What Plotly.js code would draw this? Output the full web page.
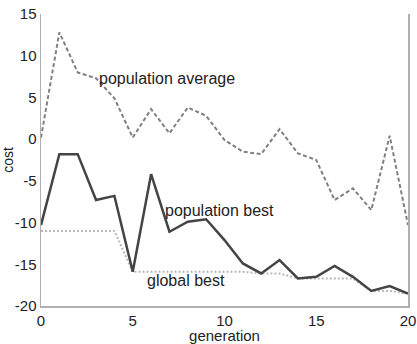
<!DOCTYPE html>
<html>
<head>
<meta charset="utf-8">
<script src="https://cdn.plot.ly/plotly-3.0.1.min.js"></script>
<style>html,body{margin:0;padding:0;background:#fff;}#chart{width:417px;height:344px;}</style>
</head>
<body>
<div id="chart"></div>
<script>
const generation = [0,1,2,3,4,5,6,7,8,9,10,11,12,13,14,15,16,17,18,19,20];
const populationAverage = [0.2,12.8,8.0,7.3,4.9,0.2,3.6,0.7,3.8,2.8,-0.1,-1.5,-1.8,1.2,-1.7,-2.5,-7.3,-5.9,-8.5,0.4,-10.3];
const populationBest = [-10.3,-1.8,-1.8,-7.3,-6.8,-15.9,-4.2,-11.1,-9.9,-9.6,-12.1,-14.9,-16.1,-14.5,-16.7,-16.5,-15.2,-16.5,-18.2,-17.6,-18.5];
const globalBest = [-11,-11,-11,-11,-11,-15.9,-15.9,-15.9,-15.9,-15.9,-15.9,-15.9,-16.1,-16.1,-16.7,-16.7,-16.7,-16.7,-18.2,-18.2,-18.5];
const xTicks = [0,5,10,15,20];
const yTicks = [-20,-15,-10,-5,0,5,10,15];

const traces = [
  {x: generation, y: globalBest, mode: 'lines', line: {color: '#b8b8b8', width: 2, dash: '2px,2px'}, hoverinfo: 'skip'},
  {x: generation, y: populationAverage, mode: 'lines', line: {color: '#808080', width: 2, dash: '4px,2.5px'}, hoverinfo: 'skip'},
  {x: generation, y: populationBest, mode: 'lines', line: {color: '#444444', width: 2.5}, hoverinfo: 'skip'}
];

const fam = 'Liberation Sans, Arial, sans-serif';
const tickFont = {family: fam, size: 15, color: '#222'};
const annFont = {family: fam, size: 16, color: '#222'};

const layout = {
  width: 417, height: 344,
  margin: {l: 41, r: 9, t: 14, b: 38},
  paper_bgcolor: '#fff', plot_bgcolor: '#fff',
  showlegend: false,
  font: tickFont,
  xaxis: {
    range: [0, 20], tickvals: xTicks, ticktext: xTicks.map(String),
    showgrid: false, zeroline: false, showline: true, linecolor: '#b0b0b0', linewidth: 1.5,
    ticks: '', mirror: false, tickfont: tickFont,
    title: {text: 'generation', font: {family: fam, size: 15, color: '#222'}, standoff: 0}
  },
  yaxis: {
    range: [-20, 15], tickvals: yTicks, ticktext: yTicks.map(String),
    showgrid: false, zeroline: false, showline: true, linecolor: '#b0b0b0', linewidth: 1.5,
    ticks: '', mirror: true, tickfont: tickFont,
    title: {text: 'cost', font: {family: fam, size: 14, color: '#222'}, standoff: 0}
  },
  annotations: [
    {x: 6.87, y: 7.3, text: 'population average', showarrow: false, font: annFont, xanchor: 'center', yanchor: 'middle'},
    {x: 9.75, y: -8.5, text: 'population best', showarrow: false, font: annFont, xanchor: 'center', yanchor: 'middle'},
    {x: 7.9, y: -16.95, text: 'global best', showarrow: false, font: annFont, xanchor: 'center', yanchor: 'middle'}
  ]
};

Plotly.newPlot('chart', traces, layout, {staticPlot: true, displayModeBar: false});
</script>
</body>
</html>
